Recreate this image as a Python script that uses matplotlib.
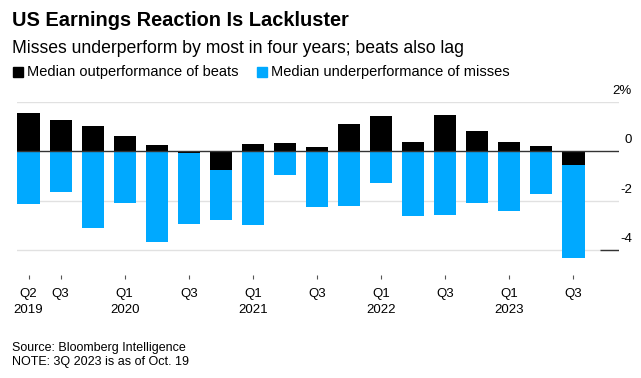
import matplotlib.pyplot as plt
import matplotlib.transforms as mtransforms
from matplotlib.patches import Rectangle

# =========================
# DATA
# =========================

quarters = ["Q2 2019", "Q3 2019", "Q4 2019", "Q1 2020", "Q2 2020", "Q3 2020",
            "Q4 2020", "Q1 2021", "Q2 2021", "Q3 2021", "Q4 2021", "Q1 2022",
            "Q2 2022", "Q3 2022", "Q4 2022", "Q1 2023", "Q2 2023", "Q3 2023"]
beats = [1.54, 1.25, 1.01, 0.61, 0.24, -0.07, -0.75, 0.28, 0.32, 0.16,
         1.10, 1.41, 0.36, 1.45, 0.81, 0.36, 0.20, -0.57]
misses = [-2.13, -1.64, -3.10, -2.09, -3.66, -2.94, -2.77, -2.98, -0.96, -2.25,
          -2.21, -1.28, -2.61, -2.57, -2.09, -2.41, -1.72, -4.31]

tick_pos = [0, 1, 3, 5, 7, 9, 11, 13, 15, 17]
tick_labels = ["Q2\n2019", "Q3", "Q1\n2020", "Q3", "Q1\n2021", "Q3",
               "Q1\n2022", "Q3", "Q1\n2023", "Q3"]
y_ticks = [2, 0, -2, -4]
y_labels = ["2%", "0", "-2", "-4"]

BLACK = "#000000"
BLUE = "#00a9ff"
GRID = "#e1e1e1"

plt.rcParams["font.family"] = ["Liberation Sans", "DejaVu Sans"]

# =========================
# PLOT
# =========================

fig = plt.figure(figsize=(6.41, 3.78), dpi=100)
ax = fig.add_axes([17 / 641, 103 / 378, 602 / 641, 173.3 / 378])

x = list(range(len(quarters)))
ax.bar(x, misses, width=0.69, color=BLUE, zorder=2)
ax.bar(x, beats, width=0.69, color=BLACK, zorder=2)

for yv in y_ticks:
    if yv == 0:
        ax.axhline(0, color="#333333", lw=1.0, zorder=3)
    else:
        ax.axhline(yv, color=GRID, lw=1.0, zorder=1)

trans = mtransforms.blended_transform_factory(ax.transAxes, ax.transData)
ax.plot([0.968, 1.0], [-4, -4], color="#333333", lw=1.0, transform=trans,
        zorder=3, solid_capstyle="butt")
for yv, lab in zip(y_ticks, y_labels):
    ax.text(1.0216, yv + 0.33, lab, transform=trans, ha="right",
            va="baseline", fontsize=9.5, color="#000000")

ax.set_xlim(-0.36, 18.42)
ax.set_ylim(-5, 2)
ax.set_yticks([])
ax.set_xticks(tick_pos)
ax.set_xticklabels(tick_labels, fontsize=9.5)
for lbl in ax.get_xticklabels():
    lbl.set_linespacing(1.45)
ax.tick_params(axis="x", length=3, width=0.8, color="#555555", pad=6)
for sp in ax.spines.values():
    sp.set_visible(False)

# =========================
# TITLES / LEGEND / NOTES
# =========================

fig.text(12 / 641, 1 - 26.5 / 378, "US Earnings Reaction Is Lackluster",
         fontsize=14.4, fontweight="bold", va="baseline", ha="left")
fig.text(12 / 641, 1 - 53 / 378,
         "Misses underperform by most in four years; beats also lag",
         fontsize=12.7, va="baseline", ha="left")

legend_items = [("Median outperformance of beats", BLACK, 13),
                ("Median underperformance of misses", BLUE, 257)]
for text, color, x0 in legend_items:
    fig.patches.append(Rectangle((x0 / 641, 1 - 77 / 378), 10 / 641, 10 / 378,
                                 transform=fig.transFigure, color=color))
    fig.text((x0 + 14) / 641, 1 - 76 / 378, text, fontsize=10.5,
             va="baseline", ha="left")

fig.text(12 / 641, 1 - 348 / 378, "Source: Bloomberg Intelligence",
         fontsize=9, va="center", ha="left")
fig.text(12 / 641, 1 - 362 / 378, "NOTE: 3Q 2023 is as of Oct. 19",
         fontsize=9, va="center", ha="left")

fig.savefig("out.png", dpi=100)
